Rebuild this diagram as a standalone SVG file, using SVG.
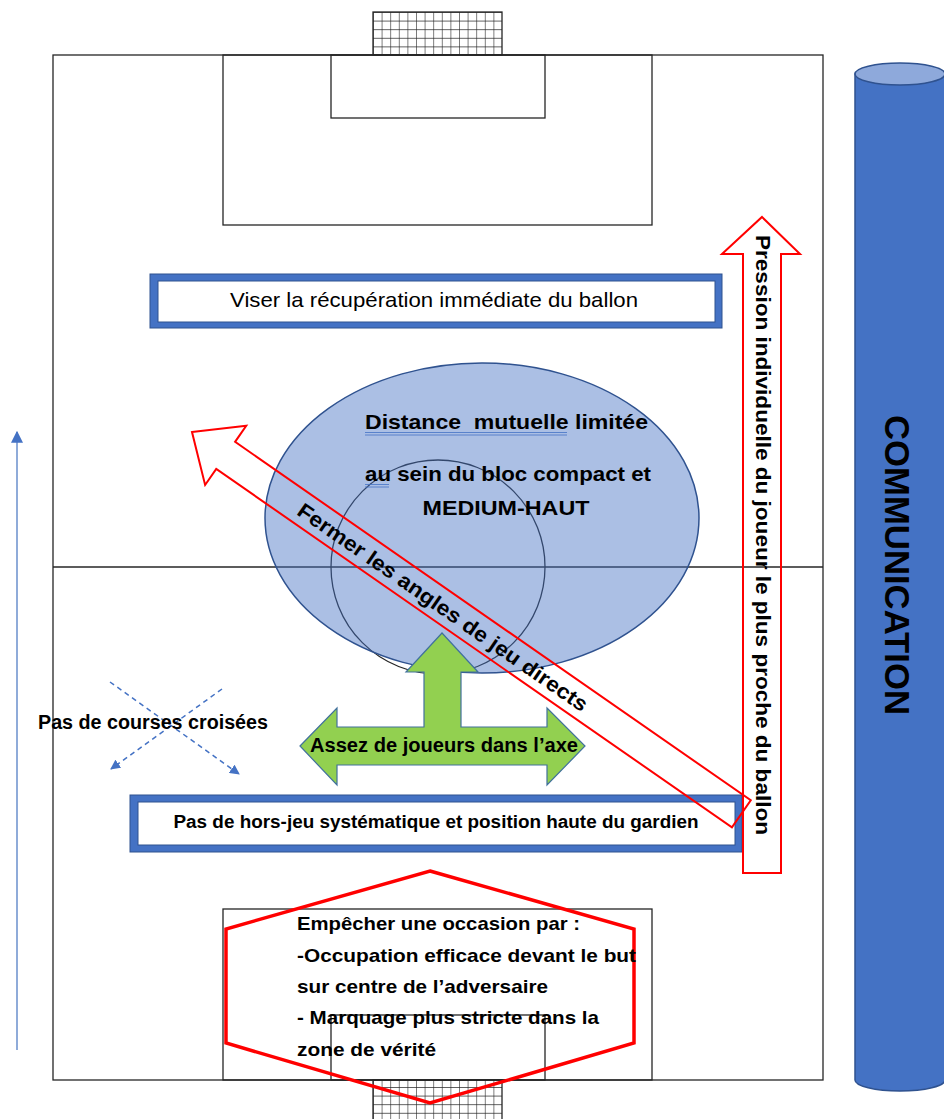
<svg xmlns="http://www.w3.org/2000/svg" width="944" height="1119" viewBox="0 0 944 1119">
<defs>
<style>
.line{fill:none;stroke:#262626;stroke-width:1.3}
.net{fill:url(#net);stroke:#262626;stroke-width:1.3}
.t{font-family:"Liberation Sans",Arial,sans-serif;fill:#000}
.b{font-weight:bold}
.redo{fill:none;stroke:#FF0000;stroke-width:2}
.boxo{fill:#4472C4;stroke:#2F528F;stroke-width:1}
.boxi{fill:#fff;stroke:#2F528F;stroke-width:1}
.spell{stroke:#4472C4;stroke-width:0.8;fill:none}
</style>
<pattern id="net" x="373" y="12" width="8.6" height="8.6" patternUnits="userSpaceOnUse">
<rect width="8.6" height="8.6" fill="#fff"/>
<path d="M0 0H8.6M0 0V8.6" stroke="#262626" stroke-width="1.2"/>
</pattern>
<marker id="ah" viewBox="0 0 10 10" refX="9" refY="5" markerWidth="10" markerHeight="10" markerUnits="userSpaceOnUse" orient="auto">
<path d="M0 0L10 5L0 10Z" fill="#4472C4"/>
</marker>
<marker id="ah2" viewBox="0 0 10 10" refX="9" refY="5" markerWidth="12" markerHeight="12" markerUnits="userSpaceOnUse" orient="auto">
<path d="M0 0L10 5L0 10Z" fill="#4472C4"/>
</marker>
</defs>
<rect width="944" height="1119" fill="#fff"/>

<g id="pitch">
<rect class="net" x="373" y="12" width="129" height="43"/>
<rect class="net" x="373" y="1080" width="129" height="45"/>
<rect class="line" x="53" y="55" width="770" height="1025"/>
<rect class="line" x="223" y="55" width="429" height="170"/>
<rect class="line" x="331" y="55" width="214" height="63"/>
<rect class="line" x="223" y="909" width="429" height="171"/>
<rect class="line" x="331" y="1015" width="214" height="65"/>
<line class="line" x1="53" y1="567" x2="823" y2="567"/>
<circle class="line" cx="438" cy="567" r="107"/>
</g>

<g id="connectors">
<line x1="17" y1="1050" x2="17" y2="432" stroke="#6A8FCC" stroke-width="1.5" marker-end="url(#ah2)"/>
<line x1="110" y1="682" x2="239" y2="774" stroke="#4472C4" stroke-width="1.5" stroke-dasharray="5,4" marker-end="url(#ah)"/>
<line x1="222" y1="689" x2="111" y2="769" stroke="#4472C4" stroke-width="1.5" stroke-dasharray="5,4" marker-end="url(#ah)"/>
</g>

<g id="bloc">
<ellipse cx="482" cy="518" rx="217" ry="155" fill="#4472C4" fill-opacity="0.45" stroke="#2F528F" stroke-width="1.5"/>
<text class="t b" x="365" y="429" font-size="21" textLength="283" lengthAdjust="spacingAndGlyphs" xml:space="preserve">Distance  mutuelle limitée</text>
<path class="spell" d="M365 432.5H567M365 435H567"/>
<text class="t b" x="365" y="481" font-size="21" textLength="286" lengthAdjust="spacingAndGlyphs">au sein du bloc compact et</text>
<path class="spell" d="M365 484.5H389M365 487H389"/>
<text class="t b" x="506" y="515" font-size="21" text-anchor="middle" textLength="167" lengthAdjust="spacingAndGlyphs">MEDIUM-HAUT</text>
</g>

<g id="viser">
<rect class="boxo" x="150" y="274" width="572" height="54"/>
<rect class="boxi" x="158" y="281" width="557" height="41"/>
<text class="t" x="434" y="307" font-size="21" text-anchor="middle" textLength="408" lengthAdjust="spacingAndGlyphs">Viser la récupération immédiate du ballon</text>
</g>

<g id="axe">
<path d="M300 746L337 708V727H424V672H406L442 633L478 672H461V727H547V708L585 746L547 785V765H337V785Z" fill="#92D050" stroke="#41719C" stroke-width="1.2"/>
<text class="t b" x="444" y="752" font-size="20" text-anchor="middle" textLength="268" lengthAdjust="spacingAndGlyphs">Assez de joueurs dans l’axe</text>
</g>

<g id="horsjeu">
<rect class="boxo" x="130" y="795" width="612" height="57"/>
<rect class="boxi" x="138" y="802" width="597" height="43"/>
<text class="t b" x="436" y="828" font-size="18" text-anchor="middle" textLength="525" lengthAdjust="spacingAndGlyphs">Pas de hors-jeu systématique et position haute du gardien</text>
</g>

<g id="courses">
<text class="t b" x="38" y="729" font-size="20" textLength="230" lengthAdjust="spacingAndGlyphs">Pas de courses croisées</text>
</g>

<g id="fermer" transform="translate(192 432) rotate(34.8)">
<path class="redo" d="M0 0L41 -36V-16.5H669V16.5H41V36Z"/>
<text class="t b" x="306" y="8" font-size="21" text-anchor="middle" textLength="348" lengthAdjust="spacingAndGlyphs">Fermer les angles de jeu directs</text>
</g>

<g id="pression">
<path class="redo" d="M762 217L800 254H781V873H743V254H722Z"/>
<text class="t b" transform="translate(756 535) rotate(90)" x="0" y="0" font-size="20" text-anchor="middle" textLength="600" lengthAdjust="spacingAndGlyphs">Pression individuelle du joueur le plus proche du ballon</text>
</g>

<g id="occasion">
<path d="M430 871L634 929V1043L430 1103L226 1043V929Z" fill="none" stroke="#FF0000" stroke-width="3.5" stroke-linejoin="miter"/>
<text class="t b" font-size="19">
<tspan x="297" y="930" textLength="283" lengthAdjust="spacingAndGlyphs">Empêcher une occasion par :</tspan>
<tspan x="297" y="962" textLength="339" lengthAdjust="spacingAndGlyphs">-Occupation efficace devant le but</tspan>
<tspan x="297" y="993" textLength="251" lengthAdjust="spacingAndGlyphs">sur centre de l’adversaire</tspan>
<tspan x="297" y="1024" textLength="302" lengthAdjust="spacingAndGlyphs">- Marquage plus stricte dans la</tspan>
<tspan x="297" y="1056" textLength="139" lengthAdjust="spacingAndGlyphs">zone de vérité</tspan>
</text>
</g>

<g id="communication">
<path d="M855 74V1080A45 11 0 0 0 945 1080V74Z" fill="#4472C4" stroke="#2F528F" stroke-width="1.5"/>
<ellipse cx="900" cy="74" rx="45" ry="11" fill="#8EA9DB" stroke="#2F528F" stroke-width="1.5"/>
<text class="t b" transform="translate(885 565) rotate(90)" x="0" y="0" font-size="35" text-anchor="middle" textLength="300" lengthAdjust="spacingAndGlyphs">COMMUNICATION</text>
</g>
</svg>
